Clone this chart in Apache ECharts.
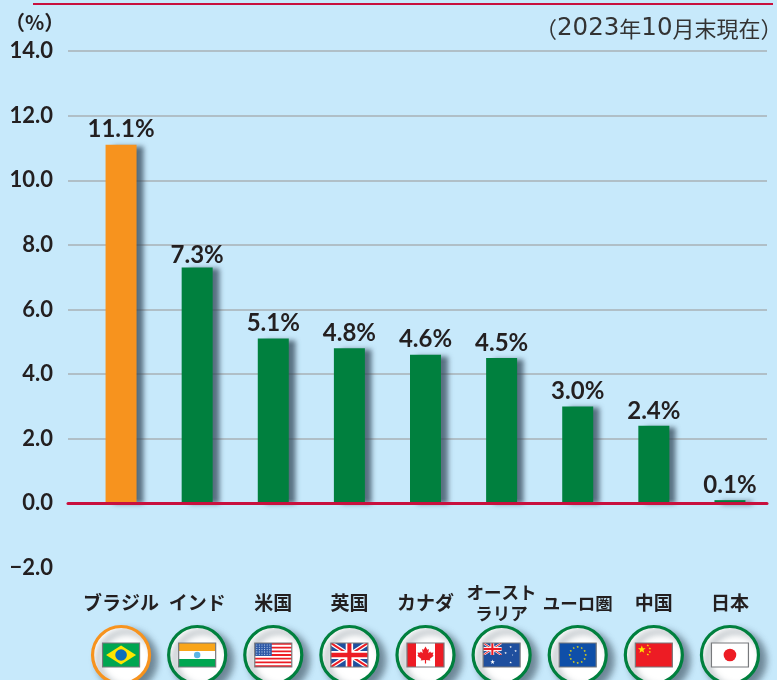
<!DOCTYPE html>
<html>
<head>
<meta charset="utf-8">
<style>
  html, body { margin: 0; padding: 0; background: #c7e9fb; }
  #main { width: 777px; height: 680px; }
</style>
<script src="https://cdn.jsdelivr.net/npm/echarts@6/dist/echarts.min.js"></script>
</head>
<body>
<div id="main"></div>
<script>
const categories = ["ブラジル", "インド", "米国", "英国", "カナダ", "オースト\nラリア", "ユーロ圏", "中国", "日本"];
const rates = [11.1, 7.3, 5.1, 4.8, 4.6, 4.5, 3.0, 2.4, 0.1];
const flagNames = ["br", "in", "us", "gb", "ca", "au", "eu", "cn", "jp"];
const unitLabel = "（%）";
const dateNote = "{k|（}{d|2023}{k|年}{d|10}{k|月末現在）}";
// these two labels are set narrower in the original
const narrowLabels = ["オースト\nラリア", "ユーロ圏"];

const JP = '"Noto Sans CJK JP", sans-serif';
const NUM = 'Lato, "Noto Sans", sans-serif';
const INK = "#231f20";
const RED = "#c8103e";
const GREEN = "#00803e";
const ORANGE = "#f7931e";

// flag helpers, everything relative to the flag centre (37 x 24)
const W = 18.5, H = 12;
function box(x, y, w, h, fill) {
  return { type: "rect", shape: { x, y, width: w, height: h }, style: { fill } };
}
function poly(points, fill) {
  return { type: "polygon", shape: { points }, style: { fill } };
}
function dot(cx, cy, r, fill) {
  return { type: "circle", shape: { cx, cy, r }, style: { fill } };
}
function star(cx, cy, r, fill) {
  const pts = [];
  for (let i = 0; i < 10; i++) {
    const a = -Math.PI / 2 + (i * Math.PI) / 5;
    const rr = i % 2 ? r * 0.42 : r;
    pts.push([cx + rr * Math.cos(a), cy + rr * Math.sin(a)]);
  }
  return poly(pts, fill);
}
// union jack inside the given rectangle
function jack(x, y, w, h) {
  const a = w * 0.11, b = h * 0.11;
  const c = w * 0.05, d = h * 0.05;
  const x1 = x + w, y1 = y + h, mx = x + w / 2, my = y + h / 2;
  const diag = (ca, cb, col) => [
    poly([[x, y], [x + ca, y], [x1, y1 - cb], [x1, y1], [x1 - ca, y1], [x, y + cb]], col),
    poly([[x1, y], [x1 - ca, y], [x, y1 - cb], [x, y1], [x + ca, y1], [x1, y + cb]], col),
  ];
  return [
    box(x, y, w, h, "#1f4f9e"),
    ...diag(a, b, "#fff"),
    ...diag(c, d, "#ed1c24"),
    box(mx - w * 0.1, y, w * 0.2, h, "#fff"),
    box(x, my - h * 0.17, w, h * 0.34, "#fff"),
    box(mx - w * 0.055, y, w * 0.11, h, "#ed1c24"),
    box(x, my - h * 0.09, w, h * 0.18, "#ed1c24"),
  ];
}
const flagDraw = {
  br() {
    return [
      box(-W, -H, 2 * W, 2 * H, "#00a651"),
      poly([[-15, 0], [0, -9.5], [15, 0], [0, 9.5]], "#ffe600"),
      dot(0, 0, 5.8, "#0a6ebd"),
    ];
  },
  in() {
    return [
      box(-W, -H, 2 * W, 8, "#f9a51a"),
      box(-W, -4, 2 * W, 8, "#fff"),
      box(-W, 4, 2 * W, 8, "#00a651"),
      dot(0, 0, 3.2, "#5bb5e5"),
    ];
  },
  us() {
    const parts = [box(-W, -H, 2 * W, 2 * H, "#fff")];
    for (let i = 0; i < 7; i++) parts.push(box(-W, -H + (i * 24) / 6.5, 2 * W, 24 / 13, "#ed1c24"));
    parts.push(box(-W, -H, 17, 13, "#2e5aa8"));
    for (let r = 0; r < 5; r++) {
      for (let c = 0; c < 6; c++) parts.push(dot(-W + 2 + c * 2.6, -H + 2 + r * 2.3, 0.55, "#cfe0f5"));
    }
    return parts;
  },
  gb() {
    return jack(-W, -H, 2 * W, 2 * H);
  },
  ca() {
    const leaf = [
      [0, -8.5], [1.8, -5.2], [3.4, -6], [2.8, -1.8], [4.8, -3.6], [5.4, -2.2], [8, -2.6],
      [7.2, 0], [8.2, 0.8], [4.2, 4], [4.8, 5.4], [0.6, 5], [0.6, 8.5], [-0.6, 8.5], [-0.6, 5],
      [-4.8, 5.4], [-4.2, 4], [-8.2, 0.8], [-7.2, 0], [-8, -2.6], [-5.4, -2.2], [-4.8, -3.6],
      [-2.8, -1.8], [-3.4, -6], [-1.8, -5.2],
    ];
    return [
      box(-W, -H, 2 * W, 2 * H, "#fff"),
      box(-W, -H, 9, 2 * H, "#ed1c24"),
      box(W - 9, -H, 9, 2 * H, "#ed1c24"),
      poly(leaf, "#ed1c24"),
    ];
  },
  au() {
    return [
      box(-W, -H, 2 * W, 2 * H, "#1f4f9e"),
      ...jack(-W, -H, 18.5, 12),
      star(-9, 7, 2.4, "#fff"),
      star(9, -8, 1.3, "#fff"),
      star(4, -2, 1.3, "#fff"),
      star(14, -4, 1.3, "#fff"),
      star(9, 7.5, 1.3, "#fff"),
      star(11, 0, 0.8, "#fff"),
    ];
  },
  eu() {
    const parts = [box(-W, -H, 2 * W, 2 * H, "#0f4fa8")];
    for (let i = 0; i < 12; i++) {
      const a = (i * Math.PI) / 6;
      parts.push(star(8 * Math.cos(a), 8 * Math.sin(a), 1.3, "#ffe600"));
    }
    return parts;
  },
  cn() {
    return [
      box(-W, -H, 2 * W, 2 * H, "#ed1c24"),
      star(-12, -5.5, 4, "#ffe600"),
      star(-6, -9.5, 1.3, "#ffe600"),
      star(-4, -6.5, 1.3, "#ffe600"),
      star(-4, -3, 1.3, "#ffe600"),
      star(-6, -0.5, 1.3, "#ffe600"),
    ];
  },
  jp() {
    return [box(-W, -H, 2 * W, 2 * H, "#fff"), dot(0, 0, 6.3, "#ed1c24")];
  },
};

const chart = echarts.init(document.getElementById("main"));
chart.setOption({
  backgroundColor: "#c7e9fb",
  animation: false,
  grid: [
    // gridlines and y labels run wider than the bars, so they get their own grid
    { left: 68, right: 10, top: 51, bottom: 112 },
    { left: 83, width: 685, top: 51, bottom: 112 },
  ],
  xAxis: [
    {
      gridIndex: 0,
      type: "value",
      min: 0,
      max: 1,
      z: 5,
      axisLine: { show: true, onZero: true, lineStyle: { color: RED, width: 3 } },
      axisTick: { show: false },
      axisLabel: { show: false },
      splitLine: { show: false },
    },
    {
      gridIndex: 1,
      type: "category",
      data: categories,
      axisLine: { show: false },
      axisTick: { show: false },
      axisLabel: {
        interval: 0,
        margin: 35,
        verticalAlign: "middle",
        fontFamily: JP,
        fontWeight: "bold",
        fontSize: 19,
        lineHeight: 21,
        color: INK,
        formatter: (v) =>
          narrowLabels.includes(v) ? v.split("\n").map((s) => `{n|${s}}`).join("\n") : v,
        rich: {
          n: { fontFamily: JP, fontWeight: "bold", fontSize: 17.5, lineHeight: 21, color: INK },
        },
      },
    },
  ],
  yAxis: [
    {
      gridIndex: 0,
      type: "value",
      min: -2,
      max: 14,
      interval: 2,
      axisLine: { show: false },
      axisTick: { show: false },
      axisLabel: {
        margin: 15,
        fontFamily: NUM,
        fontWeight: "bold",
        fontSize: 22,
        color: INK,
        formatter: (v) => v.toFixed(1).replace("-", "−"),
      },
      splitLine: { showMinLine: false, lineStyle: { color: "#a9b1b6", width: 1.5 } },
    },
    {
      gridIndex: 1,
      type: "value",
      min: -2,
      max: 14,
      interval: 2,
      axisLine: { show: false },
      axisTick: { show: false },
      axisLabel: { show: false },
      splitLine: { show: false },
    },
  ],
  series: [
    {
      type: "bar",
      xAxisIndex: 1,
      yAxisIndex: 1,
      data: rates,
      barWidth: 31,
      itemStyle: {
        color: (p) => (p.dataIndex === 0 ? ORANGE : GREEN),
        shadowColor: "rgba(50,70,85,0.75)",
        shadowBlur: 5,
        shadowOffsetX: 7,
        shadowOffsetY: 1,
      },
      label: {
        show: true,
        position: "top",
        distance: 3,
        fontFamily: NUM,
        fontWeight: "bold",
        fontSize: 24,
        color: INK,
        formatter: (p) => p.value.toFixed(1) + "%",
      },
      // the 7.3% label sits closer to its bar in the original
      labelLayout: (p) => (p.dataIndex === 1 ? { dy: 3 } : {}),
    },
  ],
});

// top rule, notes and the flag badges under each category
const graphic = [
  { type: "rect", shape: { x: 33, y: 3, width: 740, height: 2 }, style: { fill: RED } },
  {
    type: "text",
    x: 5,
    y: 22,
    style: { text: unitLabel, fontFamily: JP, fontWeight: "bold", fontSize: 20, fill: INK, verticalAlign: "middle" },
  },
  {
    type: "text",
    x: 535,
    y: 29,
    style: {
      text: dateNote,
      verticalAlign: "middle",
      fill: "#333",
      rich: {
        k: { fontFamily: JP, fontSize: 22, fill: "#333" },
        d: { fontFamily: '"DejaVu Sans", sans-serif', fontSize: 24.5, fill: "#333" },
      },
    },
  },
];
flagNames.forEach((name, i) => {
  const cx = chart.convertToPixel({ xAxisIndex: 1 }, i);
  graphic.push({
    type: "group",
    x: cx,
    y: 655,
    children: [
      {
        type: "circle",
        shape: { cx: 0, cy: 0, r: 28.5 },
        style: {
          fill: "#fff",
          stroke: i === 0 ? ORANGE : GREEN,
          lineWidth: 3.2,
          shadowColor: "rgba(50,70,85,0.6)",
          shadowBlur: 7,
          shadowOffsetX: 6,
          shadowOffsetY: 5,
        },
      },
      ...flagDraw[name](),
      { type: "rect", shape: { x: -W, y: -H, width: 2 * W, height: 2 * H }, style: { fill: "none", stroke: "#77797c", lineWidth: 1.2 } },
    ],
  });
});
chart.setOption({ graphic });
</script>
</body>
</html>
